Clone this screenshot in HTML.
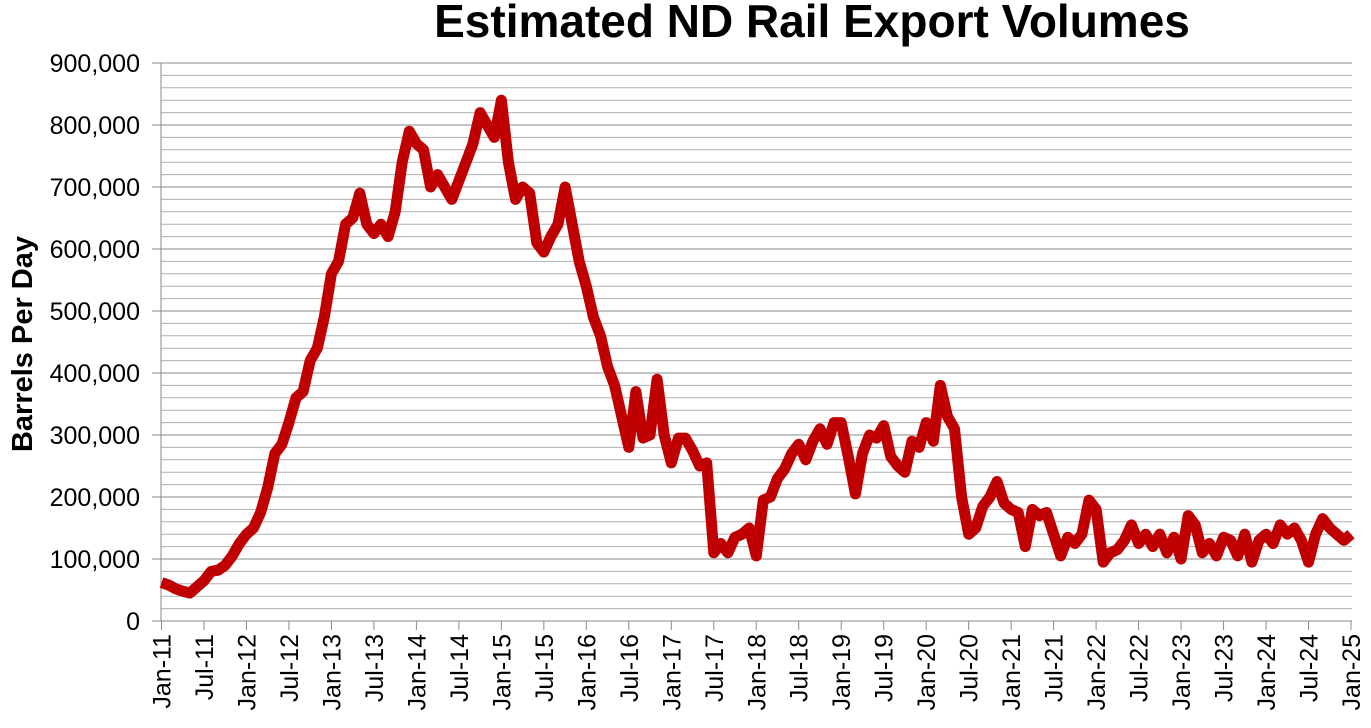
<!DOCTYPE html>
<html><head><meta charset="utf-8"><style>
html,body{margin:0;padding:0;background:#fff;}
svg{display:block;font-family:"Liberation Sans",Arial,sans-serif;}
</style></head><body>
<svg id="s" width="1371" height="728" xmlns="http://www.w3.org/2000/svg">
<text x="812" y="37" font-size="46" font-weight="bold" text-anchor="middle">Estimated ND Rail Export Volumes</text>
<text transform="translate(32,344) rotate(-90)" font-size="29" font-weight="bold" text-anchor="middle">Barrels Per Day</text>
<g id="g"></g>
</svg>
<script>
var h='';
var x0=161.5,x1=1351,yb=621,pp=0.00062;
for(var v=0;v<=900000;v+=20000){var y=yb-v*pp;var maj=v%100000==0;
h+='<line x1="'+(maj?152:161)+'" x2="1352" y1="'+y+'" y2="'+y+'" stroke="'+(maj?'#8a8a8a':'#b0b0b0')+'" stroke-width="1"/>';
if(maj)h+='<text x="140" y="'+(y+9)+'" font-size="25" text-anchor="end">'+(v==0?'0':v.toLocaleString('en-US'))+'</text>';}
h+='<line x1="161" x2="161" y1="63" y2="621" stroke="#8a8a8a"/>';
var mons=['Jan','Jul'];
for(var i=0;i<=28;i++){var x=x0+i*(x1-x0)/28;
h+='<line x1="'+x+'" x2="'+x+'" y1="621" y2="630" stroke="#8a8a8a"/>';
var lab=mons[i%2]+'-'+(11+Math.floor(i/2));
h+='<text transform="translate('+(x+9)+',634) rotate(-90)" font-size="25" text-anchor="end">'+lab+'</text>';}
var d=[62,58,52,48,45,55,65,80,82,90,105,125,
140,150,175,215,270,285,320,360,370,420,440,490,
560,580,640,650,690,640,625,640,620,660,740,
790,770,760,700,720,700,680,710,740,770,820,800,
780,840,740,680,700,690,610,595,620,640,700,640,
580,540,490,460,410,380,330,280,370,295,300,390,
300,255,295,295,275,250,255,110,125,110,135,140,
150,105,195,200,230,245,270,285,260,290,310,285,
320,320,265,205,270,300,295,315,265,250,240,290,
280,320,290,380,330,310,200,140,150,185,200,225,
190,180,175,120,180,170,175,140,105,135,125,140,
195,180,95,110,115,130,155,125,140,120,140,110,
135,100,170,155,110,125,105,135,130,105,140,95,
130,140,125,155,140,150,130,95,140,165,150,140,130,140];
var p='';for(var i=0;i<d.length;i++){var x=x0+i*(x1-x0)/168,y=yb-d[i]*1000*pp;p+=(i?'L':'M')+x.toFixed(1)+','+y.toFixed(1);}
h+='<path d="'+p+'" fill="none" stroke="#c00000" stroke-width="11" stroke-linejoin="round"/>';
document.getElementById('g').innerHTML=h;
</script>
</body></html>
